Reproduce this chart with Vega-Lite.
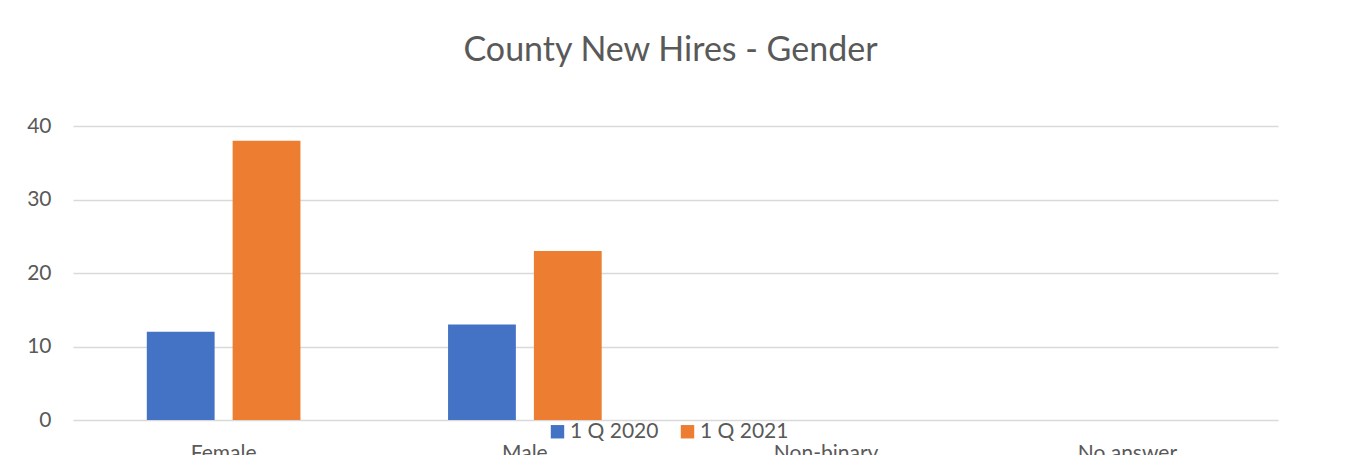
{
  "$schema": "https://vega.github.io/schema/vega-lite/v6.json",
  "autosize": "none",
  "width": 1205,
  "height": 294,
  "padding": {"left": 73, "top": 126, "right": 76, "bottom": 35},
  "background": "white",
  "title": {
    "text": "County New Hires - Gender",
    "anchor": "middle",
    "dx": -5,
    "offset": 47,
    "fontSize": 34,
    "font": "Lato",
    "fontWeight": "normal",
    "color": "#595959"
  },
  "data": {
    "values": [
      {"gender": "Female", "period": "1 Q 2020", "hires": 12},
      {"gender": "Female", "period": "1 Q 2021", "hires": 38},
      {"gender": "Male", "period": "1 Q 2020", "hires": 13},
      {"gender": "Male", "period": "1 Q 2021", "hires": 23},
      {"gender": "Non-binary", "period": "1 Q 2020", "hires": 0},
      {"gender": "Non-binary", "period": "1 Q 2021", "hires": 0},
      {"gender": "No answer", "period": "1 Q 2020", "hires": 0},
      {"gender": "No answer", "period": "1 Q 2021", "hires": 0}
    ]
  },
  "mark": {"type": "bar"},
  "encoding": {
    "x": {
      "field": "gender",
      "type": "nominal",
      "sort": ["Female", "Male", "Non-binary", "No answer"],
      "scale": {"paddingInner": 0.49, "paddingOuter": 0.245},
      "axis": {
        "title": null,
        "labelAngle": 0,
        "domain": false,
        "ticks": false,
        "labelPadding": 22,
        "labelFontSize": 21,
        "labelFont": "Lato",
        "labelColor": "#595959"
      }
    },
    "xOffset": {
      "field": "period",
      "type": "nominal",
      "scale": {"paddingInner": 0.21, "paddingOuter": 0}
    },
    "y": {
      "field": "hires",
      "type": "quantitative",
      "scale": {"domain": [0, 40]},
      "axis": {
        "title": null,
        "values": [0, 10, 20, 30, 40],
        "domain": false,
        "ticks": false,
        "labelPadding": 22,
        "labelFontSize": 21,
        "labelFont": "Lato",
        "labelColor": "#595959",
        "gridColor": "#d9d9d9",
        "gridWidth": 1.3
      }
    },
    "color": {
      "field": "period",
      "type": "nominal",
      "scale": {"domain": ["1 Q 2020", "1 Q 2021"], "range": ["#4472C4", "#ED7D31"]},
      "legend": {
        "title": null,
        "orient": "none",
        "direction": "horizontal",
        "legendX": 474,
        "legendY": 295,
        "symbolType": "square",
        "symbolSize": 180,
        "symbolStrokeWidth": 0,
        "labelFontSize": 21,
        "labelFont": "Lato",
        "labelColor": "#595959",
        "labelOffset": 2,
        "columnPadding": 18
      }
    }
  },
  "config": {
    "view": {"stroke": null}
  }
}
